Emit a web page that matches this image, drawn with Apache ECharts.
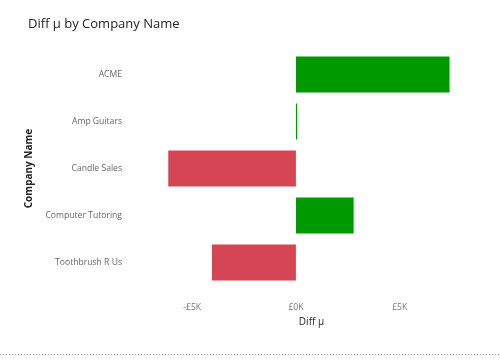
<!DOCTYPE html>
<html><head><meta charset="utf-8">
<script src="https://cdn.jsdelivr.net/npm/echarts@6/dist/echarts.min.js"></script>
<style>html,body{margin:0;padding:0;background:#fff}#c{width:500px;height:360px}</style>
</head><body><div id="c"></div>
<script>
const categories = ['ACME', 'Amp Guitars', 'Candle Sales', 'Computer Tutoring', 'Toothbrush R Us'];
const diffValues = [7400, 60, -6150, 2780, -4050];
const tickValues = [-5000, 0, 5000];
const tickLabels = ['-£5K', '£0K', '£5K'];
const posColor = '#009A00';
const negColor = '#D64553';
const font = "'Segoe UI', 'Open Sans', 'Noto Sans', sans-serif";

const chart = echarts.init(document.getElementById('c'), null, {renderer: 'canvas'});
chart.setOption({
  animation: false,
  title: {
    text: 'Diff µ by Company Name', left: 23, top: 13,
    textStyle: {fontFamily: font, fontSize: 13, fontWeight: 'normal', color: '#252423'}
  },
  grid: {left: 161, top: 51, width: 301, height: 235, containLabel: false},
  xAxis: {
    type: 'value', min: -6500, max: 8000,
    name: 'Diff µ', nameLocation: 'middle', nameGap: 24,
    nameTextStyle: {fontFamily: font, fontSize: 10, color: '#252423'},
    axisLine: {show: false}, axisTick: {show: false},
    splitLine: {show: false},
    axisLabel: {
      customValues: tickValues, fontFamily: font, fontSize: 8.6, color: '#777', margin: 17,
      formatter: v => tickLabels[tickValues.indexOf(v)]
    }
  },
  yAxis: {
    type: 'category', data: categories, inverse: true,
    name: 'Company Name', nameLocation: 'middle', nameGap: 125, nameRotate: 90,
    nameTextStyle: {fontFamily: font, fontSize: 10, color: '#252423', fontWeight: 'bold'},
    axisLine: {show: false}, axisTick: {show: false},
    axisLabel: {fontFamily: font, fontSize: 8.6, color: '#666', margin: 39}
  },
  series: [{
    type: 'bar', barWidth: 36,
    data: diffValues.map(v => ({value: v, itemStyle: {color: v >= 0 ? posColor : negColor}}))
  }],
  graphic: [{
    type: 'line', shape: {x1: 0, y1: 354.5, x2: 500, y2: 354.5},
    style: {stroke: '#999', lineWidth: 1, lineDash: [1, 2]}, silent: true
  }]
});
</script></body></html>
